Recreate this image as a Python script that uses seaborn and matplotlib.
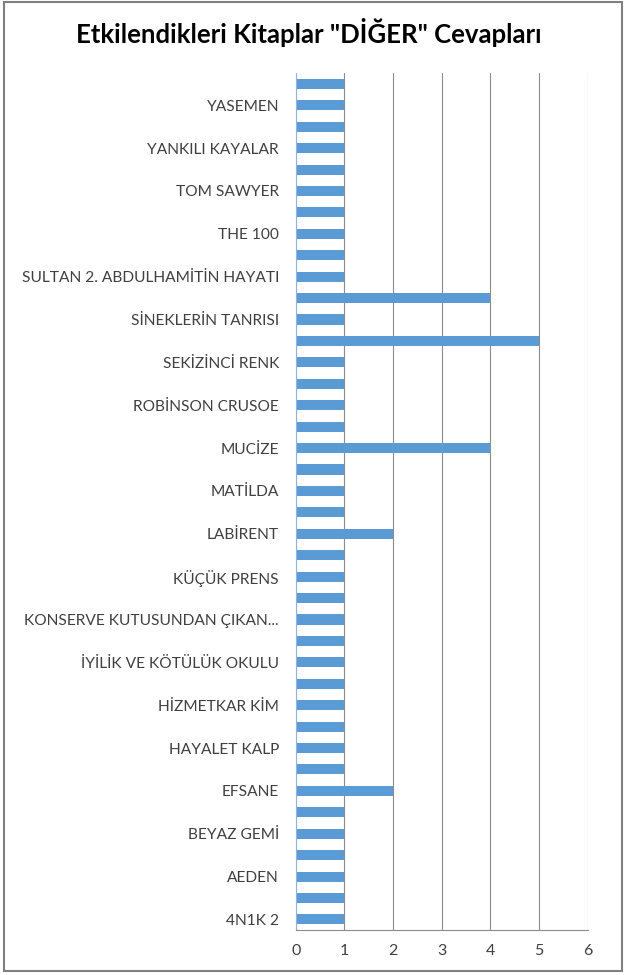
import matplotlib.pyplot as plt
import seaborn as sns
import pandas as pd
from matplotlib.patches import Rectangle

# bottom to top, as in the sheet; only every second name fits on the axis
books = [
    "4N1K 2", "(gizli 1)", "AEDEN", "(gizli 2)", "BEYAZ GEMİ", "(gizli 3)",
    "EFSANE", "(gizli 4)", "HAYALET KALP", "(gizli 5)", "HİZMETKAR KİM", "(gizli 6)",
    "İYİLİK VE KÖTÜLÜK OKULU", "(gizli 7)", "KONSERVE KUTUSUNDAN ÇIKAN...", "(gizli 8)",
    "KÜÇÜK PRENS", "(gizli 9)", "LABİRENT", "(gizli 10)", "MATİLDA", "(gizli 11)",
    "MUCİZE", "(gizli 12)", "ROBİNSON CRUSOE", "(gizli 13)", "SEKİZİNCİ RENK", "(gizli 14)",
    "SİNEKLERİN TANRISI", "(gizli 15)", "SULTAN 2. ABDULHAMİTİN HAYATI", "(gizli 16)",
    "THE 100", "(gizli 17)", "TOM SAWYER", "(gizli 18)", "YANKILI KAYALAR", "(gizli 19)",
    "YASEMEN", "(gizli 20)",
]
counts = [
    1, 1, 1, 1, 1, 1,
    2, 1, 1, 1, 1, 1,
    1, 1, 1, 1,
    1, 1, 2, 1, 1, 1,
    4, 1, 1, 1, 1, 5,
    1, 4, 1, 1,
    1, 1, 1, 1, 1, 1,
    1, 1,
]
x_ticks = [0, 1, 2, 3, 4, 5, 6]

df = pd.DataFrame({"kitap": books[::-1], "sayi": counts[::-1]})

sns.set_style("white")
plt.rcParams["font.family"] = ["Lato", "DejaVu Sans"]

fig = plt.figure(figsize=(6.24, 9.75), dpi=100)
ax = fig.add_axes([0.474, 0.046, 0.468, 0.879])

sns.barplot(data=df, x="sayi", y="kitap", color="#5B9BD5", width=0.47,
            saturation=1, linewidth=0, ax=ax, orient="h")

ax.set_xlim(0, 6)
ax.set_xticks(x_ticks)
ax.set_xticklabels([str(t) for t in x_ticks], fontsize=11.5, color="#404040")
ax.tick_params(axis="x", length=0, pad=10)
ax.tick_params(axis="y", length=0, pad=12)

labels = [b if not b.startswith("(gizli") else "" for b in df["kitap"]]
ax.set_yticks(range(len(labels)))
ax.set_yticklabels(labels, fontsize=11.2, color="#404040")
ax.set_xlabel("")
ax.set_ylabel("")

ax.grid(axis="x", color="#8C8C8C", linewidth=0.8)
ax.set_axisbelow(True)
for side in ["top", "right"]:
    ax.spines[side].set_visible(False)
ax.spines["left"].set_color("#8EB4E3")
ax.spines["bottom"].set_color("#8C8C8C")
ax.spines["left"].set_linewidth(0.8)
ax.spines["bottom"].set_linewidth(0.8)

fig.text(0.495, 0.967, 'Etkilendikleri Kitaplar "DİĞER" Cevapları',
         ha="center", va="center", fontsize=18.5, fontweight="bold", color="#000000")

fig.patches.append(Rectangle((0.006, 0.004), 0.99, 0.994, transform=fig.transFigure,
                             fill=False, edgecolor="#7F7F7F", linewidth=1.5))

fig.savefig("out.png", dpi=100)
